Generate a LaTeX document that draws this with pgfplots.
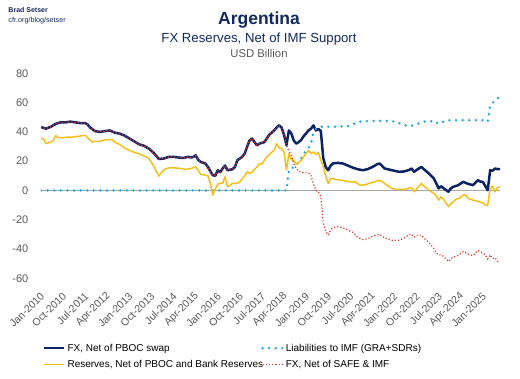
\documentclass[border=0pt]{standalone}
\usepackage{fontspec}
\setmainfont{Liberation Sans}
\usepackage{pgfplots}
\pgfplotsset{compat=1.18}
\definecolor{navy}{HTML}{0B2364}
\definecolor{titlenavy}{HTML}{13295E}
\definecolor{cyanc}{HTML}{1AA7DF}
\definecolor{yellowc}{HTML}{F5BF18}
\definecolor{redc}{HTML}{E8332A}
\definecolor{tickgray}{HTML}{5A5A5A}
\begin{document}
\begin{tikzpicture}
\useasboundingbox (0,0) rectangle (520pt,378pt);
\node[anchor=base west, inner sep=0pt, text=titlenavy, font=\fontsize{7}{8}\selectfont\bfseries] at (8.3pt,365.3pt) {Brad Setser};
\node[anchor=base west, inner sep=0pt, text=titlenavy, font=\fontsize{7.2}{8}\selectfont] at (8.3pt,355.7pt) {cfr.org/blog/setser};
\node[anchor=base, inner sep=0pt, text=titlenavy, font=\fontsize{17.5}{20}\selectfont\bfseries] at (259pt,353.7pt) {Argentina};
\node[anchor=base, inner sep=0pt, text=titlenavy, font=\fontsize{13.2}{15}\selectfont] at (259pt,335.3pt) {FX Reserves, Net of IMF Support};
\node[anchor=base, inner sep=0pt, text=tickgray, font=\fontsize{11.3}{13}\selectfont] at (259pt,320.7pt) {USD Billion};
\begin{axis}[
  at={(41pt,99.7pt)}, anchor=south west,
  scale only axis, width=459pt, height=205pt,
  xmin=0, xmax=187, ymin=-60, ymax=80,
  ytick={-60,-40,-20,0,20,40,60,80},
  yticklabels={-60,-40,-20,0,20,40,60,80},
  xtick={0,9,...,180},
  xticklabels={Jan-2010,Oct-2010,Jul-2011,Apr-2012,Jan-2013,Oct-2013,Jul-2014,Apr-2015,Jan-2016,Oct-2016,Jul-2017,Apr-2018,Jan-2019,Oct-2019,Jul-2020,Apr-2021,Jan-2022,Oct-2022,Jul-2023,Apr-2024,Jan-2025},
  axis line style={draw=none},
  major tick length=0pt,
  extra y ticks={0}, extra y tick labels={},
  extra y tick style={grid=major, grid style={draw=black!35, line width=1pt}},
  yticklabel style={font=\fontsize{11}{13}\selectfont, text=tickgray, anchor=east, inner sep=0pt, xshift=-12.5pt},
  xticklabel style={font=\fontsize{10.5}{12}\selectfont, text=tickgray, xshift=1.5pt, yshift=-16pt, rotate=45, anchor=east, inner sep=0pt},
  legend columns=2,
  legend cell align=left,
  legend style={at={(0.004,-0.309)}, anchor=north west, draw=none, fill=none, inner sep=0pt,
    font=\fontsize{10}{12}\selectfont, row sep=3.5pt,
    /tikz/every even column/.append style={column sep=-4pt}},
  legend image code/.code={\draw[#1] (0pt,0pt) -- (20pt,0pt);},
]
\addplot[navy, line width=2.5pt, line join=round] coordinates {
(0,43.3)(2,42.2)(4,43.5)(6,45.5)(8,46.5)(10,46.5)(12,47)(14,46.5)(16,46)(18,46)(19,45)(20,43)(22,40.5)(24,40)(26,40.5)(28,41)(30,39.5)(32,38.8)(34,37.5)(36,35.5)(38,33.5)(40,31.5)(42,30.5)(44,28.5)(46,25.5)(48,21.5)(50,21.8)(52,22.9)(54,23)(56,22.5)(58,22.2)(60,23)(61,22.5)(62,22.8)(63,24)(64,21)(65,19.5)(67,18.4)(68,16)(70,10.4)(71,10)(72,13.8)(73,12.5)(74,15)(75,17)(76,13.8)(78,14.5)(79,16)(80,20.6)(82,23)(83,25.2)(84,30)(85,34.2)(86,35.4)(87,33)(88,30.8)(89,32)(91,33)(93,38)(95,41)(96,43)(97,44.5)(98,43)(99,38)(100,31)(101,41)(102,38.8)(103,34)(104,32)(105,33)(106,34.5)(107,37)(108,39)(109,41)(110,42.2)(111,44.4)(112,41)(113,42)(114,40.6)(115,22)(116,16)(117,13.8)(118,17)(119,18.5)(121,18.8)(123,18.4)(125,17)(127,15.6)(129,14.5)(131,13.8)(133,14.5)(135,16)(137,18)(138,18.4)(140,15)(143,13.8)(146,12.7)(148,13)(150,14)(151,15)(152,12.7)(153,14)(155,16.1)(156,14.5)(158,11.6)(160,8.2)(161,5)(162,1.4)(163,2.9)(164,1.5)(166,-0.9)(167,1.5)(168,2.5)(170,3.6)(172,5.9)(174,4.5)(176,3.6)(178,7)(179,6)(180,5.9)(181,3)(182,0.2)(183,13.8)(184,13.5)(185,15)(186,14.5)(187,14.5)};
\addlegendentry{FX, Net of PBOC swap}
\addplot[cyanc, line width=2.7pt, line cap=round, dash pattern=on 0pt off 6.6pt] coordinates {
(0,0)(100,0)(101,14)(102,15)(103,16)(104,17)(105,20)(106,22)(107,25)(108,27)(109,29)(110,32)(111,40)(112,42)(113,43)(114,43.5)(120,43.5)(126,44)(128,46)(130,47)(135,47.5)(140,47.5)(145,47)(147,45)(150,44)(152,44.5)(154,46)(156,47)(158,47)(160,47.5)(162,45.5)(164,47)(166,48)(170,48)(175,48)(180,48)(181,47)(182,47)(183,58)(184,60)(185,61)(186,63)(187,64)};
\addlegendentry{Liabilities to IMF (GRA+SDRs)}
\addplot[yellowc, line width=1.5pt, line join=round] coordinates {
(0,35.4)(1,35.5)(2,32)(4,33)(5,34)(6,37.6)(7,36)(9,36)(11,36.5)(13,36.5)(16,37.2)(18,37.6)(19,36)(21,33)(22,33.6)(24,33.5)(26,34.5)(28,34.7)(29,34.7)(30,33)(32,31.5)(34,29)(36,27.4)(38,26)(40,25)(42,23.5)(44,21.8)(45,19)(46,16.5)(47,13)(48,9.8)(49,12)(50,13.8)(51,15)(53,15.6)(55,15.3)(57,15)(59,14.3)(61,15)(63,16)(64,14)(65,11.1)(67,10.4)(68,10)(69,5)(70,-3.2)(71,1)(72,4.3)(73,4.8)(74,5)(75,9.3)(76,2.5)(77,3.5)(78,4.8)(80,5)(81,5.9)(82,8)(83,10)(84,12.7)(85,11.6)(86,12.5)(87,14.5)(88,16)(89,18.4)(90,18)(91,20.5)(92,22.9)(93,24.5)(94,26)(95,27.4)(96,32)(97,29)(98,28.6)(99,26.3)(100,14)(101,25.2)(102,21)(103,20.6)(104,17.9)(105,19)(106,20.6)(107,23)(108,25.2)(109,27.4)(110,25.2)(111,26.3)(112,24.5)(113,26)(114,20.6)(115,16.1)(116,10)(117,4.8)(118,8.2)(119,8)(120,7.5)(122,7)(124,6.5)(126,5.9)(128,5.9)(130,3.6)(132,3.8)(134,5)(136,5.9)(138,7)(140,4.8)(141,3.5)(143,1.4)(145,0.7)(147,0.7)(149,1)(151,2)(152,-0.9)(153,1)(155,4.8)(156,3)(158,0.2)(160,-2)(161,-3.5)(162,-6.6)(163,-4.3)(164,-6)(165,-8.5)(166,-11)(167,-9)(168,-7.7)(169,-6)(170,-5.5)(171,-4.8)(172,-3.2)(173,-3.2)(174,-5.4)(175,-6)(176,-6.6)(177,-7)(178,-7.5)(179,-8)(180,-8.5)(181,-10)(182,-10)(183,1.4)(184,3)(185,-0.9)(186,2)(187,2.5)};
\addlegendentry{Reserves, Net of PBOC and Bank Reserves}
\addplot[redc, line width=1.2pt, dash pattern=on 1.2pt off 2pt] coordinates {
(0,43.3)(2,42.2)(4,43.5)(6,45.5)(8,46.5)(10,46.5)(12,47)(14,46.5)(16,46)(18,46)(19,45)(20,43)(22,40.5)(24,40)(26,40.5)(28,41)(30,39.5)(32,38.8)(34,37.5)(36,35.5)(38,33.5)(40,31.5)(42,30.5)(44,28.5)(46,25.5)(48,21.5)(50,21.8)(52,22.9)(54,23)(56,22.5)(58,22.2)(60,23)(61,22.5)(62,22.8)(63,24)(64,21)(65,19.5)(67,18.4)(68,16)(70,10.4)(71,10)(72,13.8)(73,12.5)(74,15)(75,17)(76,13.8)(78,14.5)(79,16)(80,20.6)(82,23)(83,25.2)(84,30)(85,34.2)(86,35.4)(87,33)(88,30.8)(89,32)(91,33)(93,38)(95,41)(96,43)(97,44.5)(98,43)(99,38)(100,31)(101,27)(102,23.8)(103,18)(104,15)(105,13)(106,12.5)(107,12)(108,12)(109,12)(110,10.2)(111,4.4)(112,0)(113,-1)(114,-4)(115,-22)(116,-28)(117,-30.4)(118,-27)(119,-25.5)(121,-24.7)(123,-25.5)(125,-27)(127,-28.5)(129,-32)(131,-33.5)(133,-33)(135,-31.5)(137,-30)(138,-30)(140,-32.5)(143,-34)(146,-34)(148,-32.5)(150,-30)(151,-30)(152,-32)(153,-30.5)(155,-30.5)(156,-32.5)(158,-35.5)(160,-39.5)(161,-42.5)(162,-44)(163,-44)(164,-45)(166,-48.5)(167,-46.5)(168,-45.5)(170,-44.5)(172,-41.7)(174,-43.5)(176,-44.5)(178,-41)(179,-42)(180,-42.5)(181,-44)(182,-46.8)(183,-44)(184,-46.5)(185,-46)(186,-48.5)(187,-49.5)};
\addlegendentry{FX, Net of SAFE \& IMF}
\end{axis}
\end{tikzpicture}
\end{document}
